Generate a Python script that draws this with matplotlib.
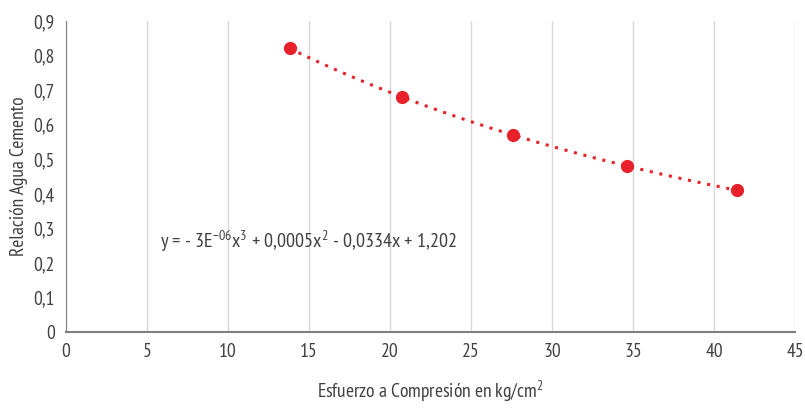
import matplotlib.pyplot as plt
import numpy as np
from matplotlib import font_manager

esfuerzo = [13.8, 20.7, 27.6, 34.6, 41.4]
relacion = [0.82, 0.68, 0.57, 0.48, 0.41]
x_ticks = [0, 5, 10, 15, 20, 25, 30, 35, 40, 45]
y_ticks = [0, 0.1, 0.2, 0.3, 0.4, 0.5, 0.6, 0.7, 0.8, 0.9]
ecuacion = "y = - 3E$^{-06}$x$^{3}$ + 0,0005x$^{2}$ - 0,0334x + 1,202"

# condensed font, like the original (Myriad Condensed)
names = {f.name for f in font_manager.fontManager.ttflist}
fam = "DejaVu Sans"
for cand in ["PT Sans Narrow", "Roboto Condensed", "Fira Sans Condensed",
             "Archivo Narrow", "Asap Condensed", "Liberation Sans Narrow"]:
    if cand in names:
        fam = cand
        break
plt.rcParams["font.family"] = [fam, "DejaVu Sans"]
plt.rcParams["mathtext.fontset"] = "custom"
plt.rcParams["mathtext.rm"] = fam
plt.rcParams["mathtext.it"] = fam
plt.rcParams["mathtext.default"] = "regular"

red = "#E8202A"
txt = "#404040"

fig = plt.figure(figsize=(8.05, 4.08), dpi=100)
ax = fig.add_axes([0.082, 0.186, 0.906, 0.763])

# trend line (polinomica grado 3)
coef = np.polyfit(esfuerzo, relacion, 3)
xs = np.linspace(min(esfuerzo), max(esfuerzo), 200)
ax.plot(xs, np.polyval(coef, xs), color=red, lw=2.2, ls=(0, (1, 2.2)), zorder=2)
ax.plot(esfuerzo, relacion, "o", color=red, ms=8.5, zorder=3)

ax.set_xlim(0, 45)
ax.set_ylim(0, 0.9)
ax.set_xticks(x_ticks)
ax.set_yticks(y_ticks)
ax.set_xticklabels([str(v) for v in x_ticks])
ax.set_yticklabels([("%g" % v).replace(".", ",") for v in y_ticks])
ax.tick_params(length=0, labelsize=14, colors=txt, pad=8)
ax.grid(axis="x", color="#d9d9d9", lw=1)
ax.set_axisbelow(True)
for s in ["top", "right"]:
    ax.spines[s].set_visible(False)
ax.spines["left"].set_color("#7f7f7f")
ax.spines["bottom"].set_color("#7f7f7f")
ax.spines["bottom"].set_linewidth(1.5)

ax.set_xlabel("Esfuerzo a Compresión en kg/cm$^{2}$", fontsize=14, color=txt, labelpad=13)
ax.set_ylabel("Relación Agua Cemento", fontsize=14, color=txt, labelpad=4)
ax.text(5.8, 0.263, ecuacion, fontsize=14.5, color=txt, va="center")

fig.savefig("out.png", dpi=100)
